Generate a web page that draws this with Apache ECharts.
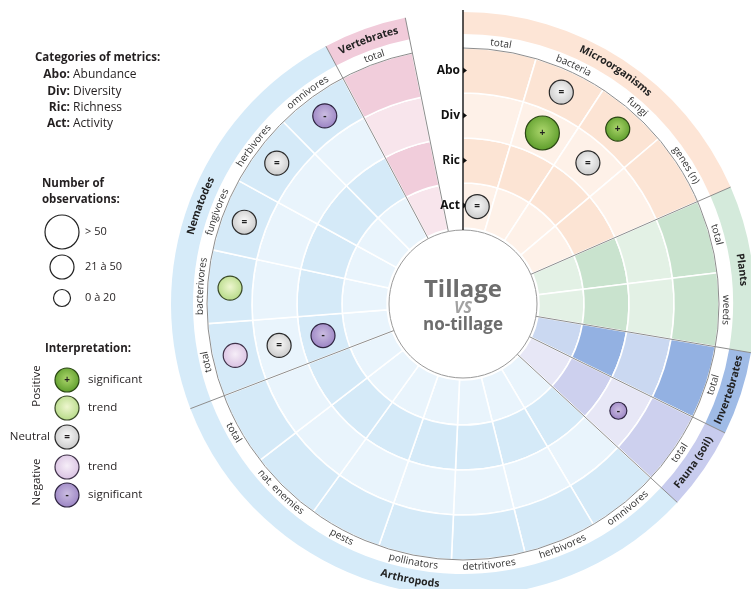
<!DOCTYPE html>
<html>
<head>
<meta charset="utf-8">
<script src="https://cdn.jsdelivr.net/npm/echarts@6/dist/echarts.min.js"></script>
<style>
  html, body { margin: 0; padding: 0; background: #fff; }
  #chart { width: 751px; height: 589px; }
</style>
</head>
<body>
<div id="chart"></div>
<script>
// ---- data ----
const groups = ['Microorganisms', 'Plants', 'Invertebrates', 'Fauna (soil)', 'Arthropods', 'Nematodes', 'Vertebrates'];
// sub-categories of each group, clockwise from the top
const groupSubs = [
  ['total', 'bacteria', 'fungi', 'genes (n)'],
  ['total', 'weeds'],
  ['total'],
  ['total'],
  ['omnivores', 'herbivores', 'detritivores', 'pollinators', 'pests', 'nat. enemies', 'total'],
  ['total', 'bacterivores', 'fungivores', 'herbivores', 'omnivores'],
  ['total']
];
// rings, inner to outer
const metrics = ['Act', 'Ric', 'Div', 'Abo'];
const metricNames = ['Activity', 'Richness', 'Diversity', 'Abundance'];
const obsClasses = ['0 à 20', '21 à 50', '> 50'];
// [group, sub-category, metric, observation class index, interpretation]
const effects = [
  ['Microorganisms', 'total', 'Act', 1, 'neutral'],
  ['Microorganisms', 'bacteria', 'Abo', 1, 'neutral'],
  ['Microorganisms', 'bacteria', 'Div', 2, 'pos'],
  ['Microorganisms', 'fungi', 'Abo', 1, 'pos'],
  ['Microorganisms', 'fungi', 'Div', 1, 'neutral'],
  ['Fauna (soil)', 'total', 'Div', 0, 'neg'],
  ['Nematodes', 'total', 'Abo', 1, 'negTrend'],
  ['Nematodes', 'total', 'Div', 1, 'neutral'],
  ['Nematodes', 'total', 'Ric', 1, 'neg'],
  ['Nematodes', 'bacterivores', 'Abo', 1, 'posTrend'],
  ['Nematodes', 'fungivores', 'Abo', 1, 'neutral'],
  ['Nematodes', 'herbivores', 'Abo', 1, 'neutral'],
  ['Nematodes', 'omnivores', 'Abo', 1, 'neg']
];

// ---- layout / styles ----
const SECTOR_DEG = 16.6;
const ANGLE_MAX = 360 / SECTOR_DEG;
const CX = 463, CY = 304, R_MAX = 294;
const R_INNER = 74;
const RING_EDGES = [76, 121, 166, 211, 256];
const R_LABEL = [256, 270];
const R_GROUP = [270, 292];
const OBS_SIZE = [17, 24, 34];
const FONT = "'Open Sans', sans-serif";

const groupColors = [
  { dark: '#fce4d4', light: '#fef1e8', band: '#fde5d6' },
  { dark: '#c9e3ce', light: '#e3f1e5', band: '#d4eadb' },
  { dark: '#93b1e2', light: '#cad8f1', band: '#9fbbe6' },
  { dark: '#cdd0ee', light: '#e7e7f6', band: '#c8ccee' },
  { dark: '#d5eaf8', light: '#e9f4fc', band: '#d6ebf9' },
  { dark: '#d5eaf8', light: '#e9f4fc', band: '#d6ebf9' },
  { dark: '#f1cddb', light: '#f8e5ec', band: '#f1cbda' }
];
const interpStyle = {
  pos:      { edge: '#5c9c2a', mid: '#acd66c', border: '#2b4714', sign: '+' },
  posTrend: { edge: '#b5da86', mid: '#eef6cf', border: '#3a4a28', sign: '' },
  neutral:  { edge: '#c9c9c9', mid: '#fbfbfb', border: '#2a2a2a', sign: '=' },
  negTrend: { edge: '#d9c1e2', mid: '#f6eef8', border: '#3e3148', sign: '' },
  neg:      { edge: '#9a83c3', mid: '#cbbde1', border: '#2e2440', sign: '-' }
};
const gradient = s => new echarts.graphic.RadialGradient(0.5, 0.45, 0.55, [
  { offset: 0, color: s.mid }, { offset: 1, color: s.edge }
]);

// ---- derived positions ----
const groupStart = [];
let acc = 0;
groups.forEach((g, i) => { groupStart.push(acc); acc += groupSubs[i].length; });
const TOTAL_SECTORS = acc;
const sectorOf = (g, s) => groupStart[groups.indexOf(g)] + groupSubs[groups.indexOf(g)].indexOf(s);
const ringCenter = m => { const i = metrics.indexOf(m); return (RING_EDGES[i] + RING_EDGES[i + 1]) / 2; };

const cellRows = [];
groups.forEach((g, gi) => {
  groupSubs[gi].forEach((s, si) => {
    const a = groupStart[gi] + si;
    metrics.forEach((m, mi) => cellRows.push([a, a + 1, RING_EDGES[mi], RING_EDGES[mi + 1], gi, mi]));
  });
  cellRows.push([groupStart[gi], groupStart[gi] + groupSubs[gi].length, R_GROUP[0], R_GROUP[1], gi, 4]);
});

const labelRows = [];
groups.forEach((g, gi) => {
  groupSubs[gi].forEach((s, si) => {
    labelRows.push({ text: s, angle: groupStart[gi] + si + 0.5, r: 263, font: '10px ' + FONT, fill: '#333' });
  });
  labelRows.push({ text: g, angle: groupStart[gi] + groupSubs[gi].length / 2, r: 281, font: 'bold 10.5px ' + FONT, fill: '#222' });
});

const boundaries = groupStart.slice(1).concat([TOTAL_SECTORS]);

// ---- helpers ----
const measureCtx = document.createElement('canvas').getContext('2d');
function textWidth(str, font) { measureCtx.font = font; return measureCtx.measureText(str).width; }

function polarPx(params, api, r, a) {
  const cs = params.coordSys;
  const p = api.coord([r, a]);
  return { x: p[0], y: p[1], r: Math.hypot(p[0] - cs.cx, p[1] - cs.cy), phi: Math.atan2(p[1] - cs.cy, p[0] - cs.cx) };
}
function sectorShape(params, api, a0, a1, r0, r1) {
  const cs = params.coordSys;
  const p0 = polarPx(params, api, r0, a0), p1 = polarPx(params, api, r1, a1);
  let e = p1.phi;
  if (e <= p0.phi) e += Math.PI * 2;
  return { cx: cs.cx, cy: cs.cy, r0: p0.r, r: p1.r, startAngle: p0.phi, endAngle: e, clockwise: true };
}
function arcText(params, api, row) {
  const cs = params.coordSys;
  const p = polarPx(params, api, row.r, row.angle);
  const deg = ((p.phi + Math.PI / 2) * 180 / Math.PI + 360) % 360;
  const flip = deg > 95 && deg < 250;
  const dir = flip ? -1 : 1;
  let offset = -textWidth(row.text, row.font) / 2;
  const children = [];
  for (const ch of row.text) {
    const w = textWidth(ch, row.font);
    const a = p.phi + dir * (offset + w / 2) / p.r;
    offset += w;
    children.push({
      type: 'text',
      x: cs.cx + p.r * Math.cos(a), y: cs.cy + p.r * Math.sin(a),
      rotation: flip ? Math.PI / 2 - a : -a - Math.PI / 2,
      style: { text: ch, font: row.font, fill: row.fill, align: 'center', verticalAlign: 'middle', textAlign: 'center', textVerticalAlign: 'middle' }
    });
  }
  return children;
}

// ---- legend graphics ----
const txt = (x, y, text, font, align, extra) => Object.assign({
  type: 'text', x, y, z: 10,
  style: { text, font, fill: '#231f20', align: align || 'left', verticalAlign: 'middle', textAlign: align || 'left', textVerticalAlign: 'middle' }
}, extra || {});
const legend = [];
legend.push(txt(35, 58, 'Categories of metrics:', 'bold 11.5px ' + FONT));
[3, 2, 1, 0].forEach((mi, k) => {
  const y = 75 + k * 16.3;
  legend.push(txt(70, y, metrics[mi] + ':', 'bold 12px ' + FONT, 'right'));
  legend.push(txt(73, y, metricNames[mi], '12px ' + FONT));
});
legend.push(txt(42, 184, 'Number of', 'bold 11.5px ' + FONT));
legend.push(txt(42, 200, 'observations:', 'bold 11.5px ' + FONT));
[2, 1, 0].forEach((oi, k) => {
  const y = [232, 267, 298][k];
  legend.push({ type: 'circle', shape: { cx: 62, cy: y, r: OBS_SIZE[oi] / 2 }, style: { fill: '#fff', stroke: '#222', lineWidth: 1.2 } });
  legend.push(txt(85, y, obsClasses[oi], '11px ' + FONT));
});
legend.push(txt(45, 349, 'Interpretation:', 'bold 11.5px ' + FONT));
const interpLegend = [['pos', 380, 'significant'], ['posTrend', 408, 'trend'], ['neutral', 437, ''], ['negTrend', 467, 'trend'], ['neg', 495, 'significant']];
interpLegend.forEach(([k, y, t]) => {
  const s = interpStyle[k];
  legend.push({ type: 'circle', shape: { cx: 67, cy: y, r: 12 }, style: { fill: gradient(s), stroke: s.border, lineWidth: 1.2 } });
  if (s.sign) legend.push(txt(67, y, s.sign, 'bold 10px ' + FONT, 'center'));
  if (t) legend.push(txt(88, y, t, '11.5px ' + FONT));
});
legend.push(txt(50, 437, 'Neutral', '11.5px ' + FONT, 'right'));
legend.push(txt(37, 386, 'Positive', '11.5px ' + FONT, 'center', { rotation: Math.PI / 2 }));
legend.push(txt(37, 482, 'Negative', '11.5px ' + FONT, 'center', { rotation: Math.PI / 2 }));
// centre title
const title = [
  [290, 'Tillage', 'bold 24px ', '#6d6d6d'],
  [308, 'VS', 'italic bold 16px ', '#a2a2a2'],
  [325, 'no-tillage', 'bold 17px ', '#6d6d6d']
];
title.forEach(([y, t, f, c]) => {
  const el = txt(CX, y, t, f + FONT, 'center', { z: 20 });
  el.style.fill = c;
  legend.push(el);
});

// ---- chart ----
const chart = echarts.init(document.getElementById('chart'));
chart.setOption({
  animation: false,
  backgroundColor: '#fff',
  polar: { center: [CX, CY], radius: [0, R_MAX] },
  angleAxis: { type: 'value', min: 0, max: ANGLE_MAX, startAngle: 90, clockwise: true, show: false },
  radiusAxis: { type: 'value', min: 0, max: R_MAX, show: false },
  graphic: { elements: legend },
  series: [
    {
      type: 'custom', coordinateSystem: 'polar', silent: true, z: 1,
      encode: { radius: 2, angle: 0 },
      data: cellRows,
      renderItem: (params, api) => {
        const gi = api.value(4), kind = api.value(5);
        const pal = groupColors[gi];
        const fill = kind === 4 ? pal.band : (kind % 2 ? pal.dark : pal.light);
        return {
          type: 'sector',
          shape: sectorShape(params, api, api.value(0), api.value(1), api.value(2), api.value(3)),
          style: { fill, stroke: kind === 4 ? null : '#fff', lineWidth: 1.6 }
        };
      }
    },
    {
      type: 'custom', coordinateSystem: 'polar', silent: true, z: 2,
      data: [[0, 0]],
      renderItem: (params, api) => {
        const cs = params.coordSys;
        const ch = [];
        const arc = sectorShape(params, api, 0, TOTAL_SECTORS, R_LABEL[0], R_LABEL[0]);
        ch.push({ type: 'arc', shape: { cx: cs.cx, cy: cs.cy, r: arc.r, startAngle: arc.startAngle, endAngle: arc.endAngle, clockwise: true }, style: { stroke: '#8d8d8d', lineWidth: 1, fill: null } });
        boundaries.forEach(b => {
          const p0 = polarPx(params, api, R_INNER, b), p1 = polarPx(params, api, R_GROUP[1], b);
          ch.push({ type: 'line', shape: { x1: p0.x, y1: p0.y, x2: p1.x, y2: p1.y }, style: { stroke: '#8d8d8d', lineWidth: 1 } });
        });
        const inner = polarPx(params, api, R_INNER, 0);
        ch.push({ type: 'circle', shape: { cx: cs.cx, cy: cs.cy, r: inner.r }, style: { fill: '#fff', stroke: '#9a9a9a', lineWidth: 1 } });
        const top = polarPx(params, api, R_MAX, 0);
        ch.push({ type: 'line', shape: { x1: inner.x, y1: inner.y, x2: top.x, y2: top.y }, style: { stroke: '#111', lineWidth: 1.4 } });
        metrics.forEach(m => {
          const p = polarPx(params, api, ringCenter(m), 0);
          ch.push({ type: 'polygon', shape: { points: [[p.x, p.y - 3], [p.x + 4, p.y], [p.x, p.y + 3]] }, style: { fill: '#111' } });
          ch.push({ type: 'text', x: p.x - 3, y: p.y, style: { text: m, font: 'bold 12px ' + FONT, fill: '#111', align: 'right', verticalAlign: 'middle', textAlign: 'right', textVerticalAlign: 'middle' } });
        });
        return { type: 'group', children: ch };
      }
    },
    {
      type: 'custom', coordinateSystem: 'polar', silent: true, z: 3,
      data: labelRows.map(l => [l.r, l.angle]),
      renderItem: (params, api) => ({ type: 'group', children: arcText(params, api, labelRows[params.dataIndex]) })
    },
    {
      type: 'scatter', coordinateSystem: 'polar', silent: true, z: 5,
      data: effects.map(([g, s, m, o, k]) => {
        const st = interpStyle[k];
        return {
          value: [ringCenter(m), sectorOf(g, s) + 0.5],
          symbolSize: OBS_SIZE[o],
          itemStyle: { color: gradient(st), borderColor: st.border, borderWidth: 1.2, opacity: 1 },
          label: { show: !!st.sign, formatter: st.sign }
        };
      }),
      label: { position: 'inside', fontSize: 10, fontWeight: 'bold', color: '#222', fontFamily: FONT }
    }
  ]
});
</script>
</body>
</html>
